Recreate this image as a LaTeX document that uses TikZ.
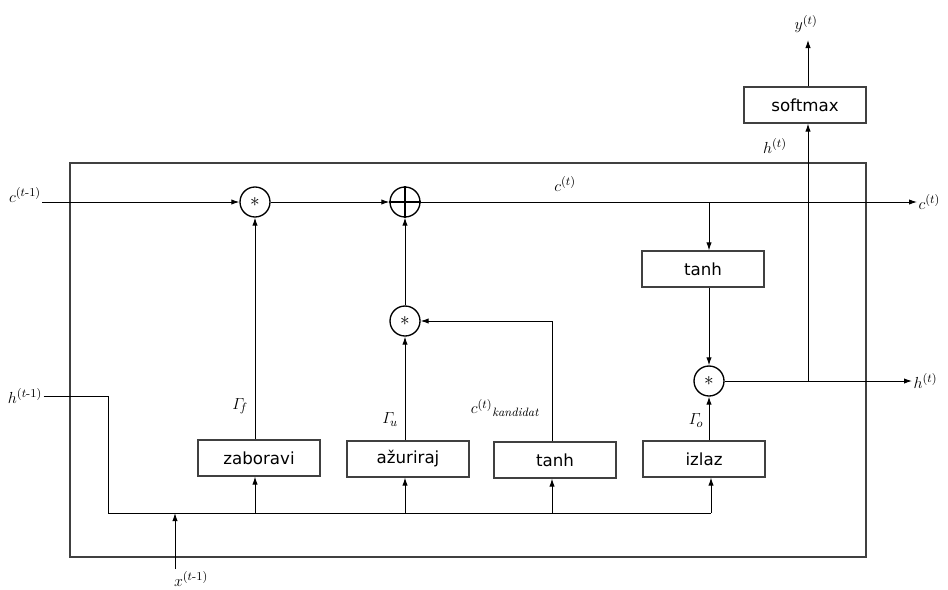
\documentclass[tikz,border=0pt]{standalone}
\usepackage{amsmath}
\usepackage{fontspec}
\setsansfont{DejaVu Sans}
\usetikzlibrary{arrows.meta}

\tikzset{
    gate/.style={draw=black!75,line width=0.9pt,minimum width=91.5pt,minimum height=27pt,inner sep=0pt,font=\sffamily\fontsize{12.5}{14}\selectfont},
    op/.style={circle,draw,line width=1pt,minimum size=22.5pt,inner sep=0pt,font=\Large},
    lbl/.style={font=\fontsize{13}{15}\selectfont,inner sep=1pt},
    flow/.style={-{Latex[length=6pt,width=4pt]},line width=0.7pt},
}

\begin{document}
\begin{tikzpicture}[x=0.75pt,y=-0.75pt]
    \useasboundingbox (0,0) rectangle (948,589);
    \draw[draw=black!75,line width=0.9pt] (70,163) rectangle (866,557);

    % gates and operations
    \node[op] (mf) at (255,202) {$\ast$};
    \node[op] (add) at (405,202) {};
    \draw[line width=1.4pt] (add.north) -- (add.south) (add.west) -- (add.east);
    \node[op] (mu) at (405,321) {$\ast$};
    \node[op] (mo) at (709,381) {$\ast$};
    \node[gate] (fg) at (259,458) {zaboravi};
    \node[gate] (ug) at (408,459) {ažuriraj};
    \node[gate] (cg) at (555,460) {tanh};
    \node[gate] (og) at (704,459) {izlaz};
    \node[gate] (ct) at (703,269) {tanh};
    \node[gate] (sm) at (805,105) {softmax};

    % inputs and outputs
    \node[lbl] (cprev) at (25,195) {$c^{(t\text{-}1)}$};
    \coordinate (cin) at (42,202);
    \node[lbl] (hprev) at (25,396) {$h^{(t\text{-}1)}$};
    \coordinate (bl) at (108,513);
    \coordinate (br) at (711,513);
    \coordinate (xin) at (175,569);
    \coordinate (xj) at (175,513);
    \node[lbl] (xprev) at (191,579) {$x^{(t\text{-}1)}$};
    \coordinate (cout) at (917,202);
    \node[lbl,right] (cnext) at (cout) {$c^{(t)}$};
    \coordinate (hout) at (912,381);
    \node[lbl,right] (hnext) at (hout) {$h^{(t)}$};
    \coordinate (hj) at (808,381);
    \coordinate (yout) at (806,40);
    \node[lbl] (ynext) at (806,24) {$y^{(t)}$};

    % cell state
    \draw[flow] (cin) -- (mf.west);
    \draw[flow] (mf.east) -- (add.west);
    \draw[flow] (add.east) -- (cout);
    \node[lbl] (clbl) at (565,184) {$c^{(t)}$};
    \draw[flow] (add -| mo) -- (ct.north -| mo);
    \draw[flow] (ct.south -| mo) -- (mo.north);

    % bus
    \draw[line width=0.7pt] (hprev.east) -| (bl) -- (br);
    \draw[flow] (xin) -- (xj);
    \draw[flow] (bl -| mf) -- (fg.south -| mf);
    \draw[flow] (bl -| mu) -- (ug.south -| mu);
    \draw[flow] (bl -| 552,0) -- (cg.south -| 552,0);
    \draw[flow] (br) -- (og.south -| br);

    % gates to operations
    \draw[flow] (fg.north -| mf) -- node[lbl,pos=0.15,left=4pt] {$\varGamma_{\!f}$} (mf.south);
    \draw[flow] (ug.north -| mu) -- node[lbl,pos=0.2,left=4pt] {$\varGamma_{\!u}$} (mu.south);
    \draw[flow] (mu.north) -- (add.south);
    \draw[flow] (cg.north -| 552,0) |- (mu.east);
    \node[lbl] (kand) at (505,408) {${c^{(t)}}_{\mathit{kandidat}}$};
    \draw[flow] (og.north -| mo) -- node[lbl,pos=0.45,left=3pt] {$\varGamma_{\!o}$} (mo.south);

    % output
    \draw[flow] (mo.east) -- (hout);
    \draw[flow] (hj) -- (sm.south -| hj);
    \node[lbl] (hlbl) at (775,146) {$h^{(t)}$};
    \draw[flow] (sm.north -| hj) -- (yout -| hj);
\end{tikzpicture}
\end{document}
